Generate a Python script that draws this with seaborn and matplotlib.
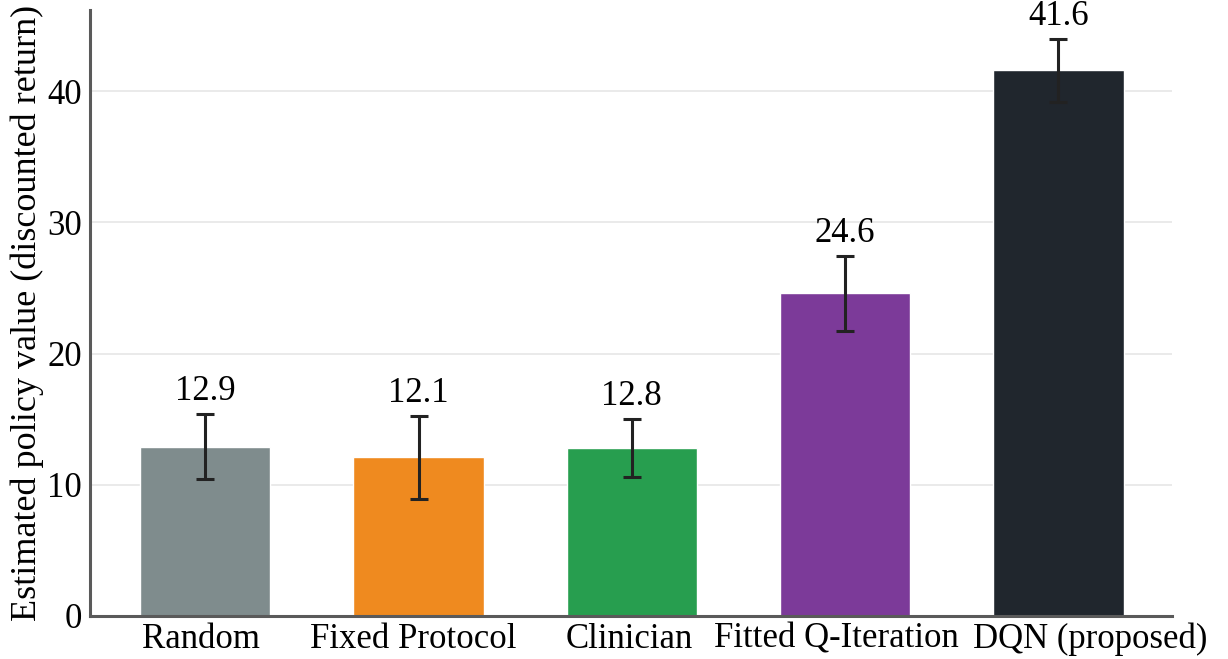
import matplotlib
matplotlib.use('Agg')
import matplotlib.pyplot as plt
import matplotlib.transforms as mtransforms
import seaborn as sns
import pandas as pd

sns.set_style("white")
plt.rcParams['font.family'] = ['Liberation Serif', 'DejaVu Serif']
plt.rcParams['text.color'] = 'black'
plt.rcParams['xtick.color'] = 'black'
plt.rcParams['ytick.color'] = 'black'
plt.rcParams['axes.labelcolor'] = 'black'

policies = ['Random', 'Fixed Protocol', 'Clinician', 'Fitted Q-Iteration', 'DQN (proposed)']
values = [12.9, 12.1, 12.8, 24.6, 41.6]
errors = [2.5, 3.15, 2.2, 2.85, 2.4]
colors = ['#7f8c8d', '#ef8a1f', '#279e4f', '#7c3a99', '#20262d']
# horizontal nudge of the category labels (pixels), so the last two don't collide
label_shift = [-4, -5, -3, -9, 32]

df = pd.DataFrame({'policy': policies, 'value': values})

fig = plt.figure(figsize=(12.28, 6.59), dpi=100)
ax = fig.add_axes([0.0733, 0.0653, 0.8807, 0.92])

sns.barplot(data=df, x='policy', y='value', hue='policy', palette=colors,
            saturation=1, legend=False, width=0.61, errorbar=None, ax=ax, zorder=2)
ax.errorbar(range(len(policies)), values, yerr=errors, fmt='none',
            ecolor='#222222', elinewidth=2.2, capsize=6.5, capthick=2.2, zorder=3)

for i, (v, e) in enumerate(zip(values, errors)):
    ax.annotate(f'{v:.1f}', (i, v + e), xytext=(0, 10), textcoords='offset points',
                ha='center', va='baseline', fontsize=25)

ax.set_xlim(-0.54, 4.53)
ax.set_ylim(0, 46.2)
ax.set_yticks([0, 10, 20, 30, 40])
ax.yaxis.grid(True, color='#e6e6e6', linewidth=1.2, zorder=0)
ax.set_axisbelow(True)

for s in ['top', 'right']:
    ax.spines[s].set_visible(False)
for s in ['left', 'bottom']:
    ax.spines[s].set_color('#5a5a5a')
    ax.spines[s].set_linewidth(2.2)

ax.tick_params(axis='x', length=4, width=1, color='#888888', labelsize=25, pad=1)
ax.tick_params(axis='y', length=0, labelsize=25, pad=6)
ax.set_xlabel('')
ax.set_ylabel('Estimated policy value (discounted return)', fontsize=26, labelpad=2)

for lab, dx in zip(ax.get_xticklabels(), label_shift):
    off = mtransforms.ScaledTranslation(dx / 100, 0, fig.dpi_scale_trans)
    lab.set_transform(lab.get_transform() + off)

fig.savefig('out.png', dpi=100)
